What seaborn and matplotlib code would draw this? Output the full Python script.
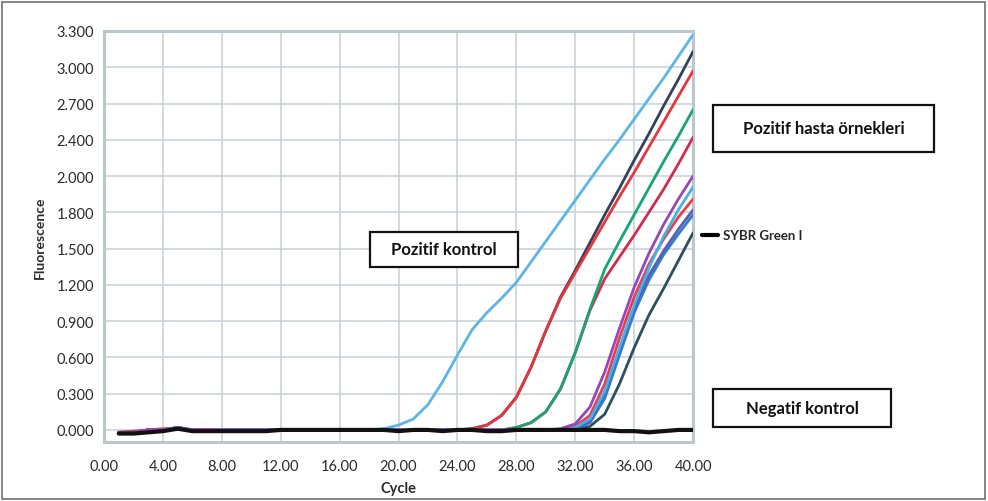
import matplotlib
matplotlib.use("Agg")
import matplotlib.pyplot as plt
import seaborn as sns
import pandas as pd
from matplotlib.patches import Rectangle
from matplotlib.lines import Line2D
from matplotlib.ticker import MultipleLocator, AutoMinorLocator

sns.set_theme(style="white")
plt.rcParams['font.family'] = ['Lato', 'DejaVu Sans']

# cycle numbers and fluorescence
cycles = list(range(1, 41))

pozitif_kontrol = [-0.02, -0.02, -0.01, 0.00, 0.02, 0.00, -0.01, -0.01, 0.00, 0.00,
                   0.00, 0.00, 0.00, 0.00, 0.00, 0.00, 0.00, 0.00, 0.01, 0.04,
                   0.09, 0.21, 0.40, 0.62, 0.83, 0.97, 1.09, 1.22, 1.39, 1.56,
                   1.73, 1.90, 2.07, 2.24, 2.40, 2.57, 2.74, 2.91, 3.09, 3.27]

ornek_lacivert = [-0.02, -0.02, 0.00, 0.00, 0.02, 0.00, -0.01, 0.00, 0.00, 0.00,
                  0.00, 0.00, 0.00, 0.00, 0.00, 0.00, 0.00, 0.00, 0.00, 0.00,
                  0.00, 0.00, 0.00, 0.00, 0.01, 0.04, 0.12, 0.27, 0.52, 0.82,
                  1.10, 1.32, 1.55, 1.78, 2.00, 2.23, 2.45, 2.68, 2.90, 3.13]

ornek_kirmizi = [-0.02, -0.01, 0.00, 0.01, 0.01, 0.00, -0.01, 0.00, 0.00, 0.00,
                 0.00, 0.00, 0.00, 0.00, 0.00, 0.00, 0.00, 0.00, 0.00, 0.00,
                 0.00, 0.00, 0.00, 0.00, 0.01, 0.04, 0.12, 0.27, 0.52, 0.82,
                 1.09, 1.30, 1.51, 1.72, 1.93, 2.13, 2.34, 2.55, 2.76, 2.97]

ornek_yesil = [-0.02, -0.02, -0.01, 0.00, 0.02, 0.00, -0.01, 0.00, 0.00, 0.00,
               0.00, 0.00, 0.00, 0.00, 0.00, 0.00, 0.00, 0.00, 0.00, 0.00,
               0.00, 0.00, 0.00, 0.00, 0.00, 0.00, 0.00, 0.02, 0.06, 0.15,
               0.34, 0.64, 1.00, 1.33, 1.56, 1.78, 2.00, 2.22, 2.43, 2.65]

ornek_bordo = [-0.02, -0.02, 0.00, 0.00, 0.01, 0.00, -0.01, 0.00, 0.00, 0.00,
               0.00, 0.00, 0.00, 0.00, 0.00, 0.00, 0.00, 0.00, 0.00, 0.00,
               0.00, 0.00, 0.00, 0.00, 0.00, 0.00, 0.00, 0.02, 0.06, 0.15,
               0.34, 0.64, 0.99, 1.25, 1.43, 1.61, 1.80, 1.99, 2.20, 2.42]

ornek_mor = [-0.02, -0.02, 0.00, 0.00, 0.02, 0.00, 0.00, 0.00, 0.00, 0.00,
             0.00, 0.00, 0.00, 0.00, 0.00, 0.00, 0.00, 0.00, 0.00, 0.00,
             0.00, 0.00, 0.00, 0.00, 0.00, 0.00, 0.00, 0.00, 0.00, 0.00,
             0.01, 0.05, 0.19, 0.48, 0.84, 1.18, 1.46, 1.70, 1.91, 2.10]

ornek_acik_mavi = [-0.02, -0.02, -0.01, 0.00, 0.02, 0.00, -0.01, 0.00, 0.00, 0.00,
                   0.00, 0.00, 0.00, 0.00, 0.00, 0.00, 0.00, 0.00, 0.00, 0.00,
                   0.00, 0.00, 0.00, 0.00, 0.00, 0.00, 0.00, 0.00, 0.00, 0.00,
                   0.00, 0.02, 0.09, 0.32, 0.68, 1.03, 1.34, 1.60, 1.82, 2.01]

ornek_kirmizi2 = [-0.02, -0.02, 0.00, 0.00, 0.01, 0.00, 0.00, 0.00, 0.00, 0.00,
                  0.00, 0.00, 0.00, 0.00, 0.00, 0.00, 0.00, 0.00, 0.00, 0.00,
                  0.00, 0.00, 0.00, 0.00, 0.00, 0.00, 0.00, 0.00, 0.00, 0.00,
                  0.00, 0.03, 0.12, 0.38, 0.76, 1.10, 1.37, 1.58, 1.76, 1.91]

ornek_indigo = [-0.02, -0.02, 0.00, 0.00, 0.01, 0.00, 0.00, 0.00, 0.00, 0.00,
                0.00, 0.00, 0.00, 0.00, 0.00, 0.00, 0.00, 0.00, 0.00, 0.00,
                0.00, 0.00, 0.00, 0.00, 0.00, 0.00, 0.00, 0.00, 0.00, 0.00,
                0.00, 0.01, 0.07, 0.30, 0.66, 1.01, 1.28, 1.48, 1.66, 1.82]

ornek_mavi = [-0.02, -0.02, 0.00, 0.00, 0.02, 0.00, 0.00, 0.00, 0.00, 0.00,
              0.00, 0.00, 0.00, 0.00, 0.00, 0.00, 0.00, 0.00, 0.00, 0.00,
              0.00, 0.00, 0.00, 0.00, 0.00, 0.00, 0.00, 0.00, 0.00, 0.00,
              0.00, 0.01, 0.06, 0.26, 0.62, 0.97, 1.24, 1.45, 1.62, 1.78]

ornek_koyu = [-0.02, -0.02, 0.00, 0.00, 0.01, 0.00, 0.00, 0.00, 0.00, 0.00,
              0.00, 0.00, 0.00, 0.00, 0.00, 0.00, 0.00, 0.00, 0.00, 0.00,
              0.00, 0.00, 0.00, 0.00, 0.00, 0.00, 0.00, 0.00, 0.00, 0.00,
              0.00, 0.00, 0.03, 0.13, 0.38, 0.68, 0.95, 1.17, 1.40, 1.63]

negatif_kontrol = [-0.03, -0.03, -0.02, -0.01, 0.01, -0.01, -0.01, -0.01, -0.01, -0.01,
                   -0.01, 0.00, 0.00, 0.00, 0.00, 0.00, 0.00, 0.00, 0.00, -0.01,
                   0.00, 0.00, -0.01, 0.00, 0.00, -0.01, -0.01, 0.00, 0.00, 0.00,
                   0.00, 0.00, 0.00, 0.00, -0.01, -0.01, -0.02, -0.01, 0.00, 0.00]

# drawing order: later entries sit on top
series = {
    "pozitif kontrol": (pozitif_kontrol, "#5ab6e6"),
    "lacivert": (ornek_lacivert, "#34415b"),
    "kirmizi": (ornek_kirmizi, "#e8343f"),
    "bordo": (ornek_bordo, "#d42a4e"),
    "yesil": (ornek_yesil, "#18a574"),
    "koyu": (ornek_koyu, "#2c4f5e"),
    "mavi": (ornek_mavi, "#2a80d2"),
    "indigo": (ornek_indigo, "#5d5cb0"),
    "kirmizi2": (ornek_kirmizi2, "#ee3b47"),
    "acik mavi": (ornek_acik_mavi, "#3fb2ea"),
    "mor": (ornek_mor, "#9a45b5"),
}

y_labels = ["0.000", "0.300", "0.600", "0.900", "1.200", "1.500",
            "1.800", "2.000", "2.400", "2.700", "3.000", "3.300"]

rows = []
for name, (vals, col) in series.items():
    for c, v in zip(cycles, vals, strict=True):
        rows.append({"sample": name, "cycle": c, "fluor": v})
df = pd.DataFrame(rows)
palette = {name: col for name, (vals, col) in series.items()}

fig = plt.figure(figsize=(9.88, 5.02), dpi=100)
ax = fig.add_axes([0.1053, 0.1175, 0.5962, 0.8188])

sns.lineplot(data=df, x="cycle", y="fluor", hue="sample", palette=palette,
             hue_order=list(series.keys()), linewidth=2.0, legend=False,
             ax=ax, zorder=3)
sns.lineplot(x=cycles, y=negatif_kontrol, color="#111111", linewidth=3.0,
             ax=ax, zorder=4)

ax.set_xlim(0, 40)
ax.set_ylim(-0.1, 3.3)
ax.set_xticks([i * 4 for i in range(11)])
ax.set_xticklabels([f"{i * 4:.2f}" for i in range(11)])
ax.xaxis.set_minor_locator(MultipleLocator(1))
ax.set_yticks([i * 0.3 for i in range(12)])
ax.set_yticklabels(y_labels)
ax.yaxis.set_minor_locator(AutoMinorLocator(3))

ax.grid(True, which="major", color="#c6cfd7", linewidth=1.1)
for s in ax.spines.values():
    s.set_color("#bcc6ce")
    s.set_linewidth(2.2)
ax.tick_params(axis="both", which="both", direction="out", color="#aab5bf",
               labelcolor="#2b2b2b", labelsize=10.5)
ax.tick_params(axis="both", which="major", length=4, width=1)
ax.tick_params(axis="both", which="minor", length=3, width=1)
ax.tick_params(axis="x", which="major", pad=8)
ax.tick_params(axis="y", which="major", pad=3)

ax.set_xlabel("Cycle", fontsize=10.5, fontweight="bold", color="#2b2b2b", labelpad=6)
ax.set_ylabel("Fluorescence", fontsize=10, fontweight="bold", color="#2b2b2b", labelpad=8)

ax.legend(handles=[Line2D([0], [0], color="black", linewidth=3)],
          labels=["SYBR Green I"], loc="center left",
          bbox_to_anchor=(1.015, 0.503), frameon=False, handlelength=1.2,
          handletextpad=0.4, borderpad=0, borderaxespad=0,
          prop={"weight": "bold", "size": 9.5})

W, H = 988, 502


def kutu(x0, y0, x1, y1, metin):
    fig.add_artist(Rectangle((x0 / W, 1 - y1 / H), (x1 - x0) / W, (y1 - y0) / H,
                             transform=fig.transFigure, facecolor="white",
                             edgecolor="#111111", linewidth=1.6, zorder=5))
    fig.text((x0 + x1) / 2 / W, 1 - (y0 + y1) / 2 / H, metin, ha="center",
             va="center", fontsize=12, fontweight="bold", color="#111111", zorder=6)


kutu(370, 233, 518, 268, "Pozitif kontrol")
kutu(713, 106, 934, 153, "Pozitif hasta örnekleri")
kutu(713, 390, 891, 428, "Negatif kontrol")

fig.add_artist(Rectangle((2 / W, 2 / H), (W - 5) / W, (H - 5) / H,
                         transform=fig.transFigure, facecolor="none",
                         edgecolor="#6f6f6f", linewidth=1.2))

fig.savefig("out.png", dpi=100)
